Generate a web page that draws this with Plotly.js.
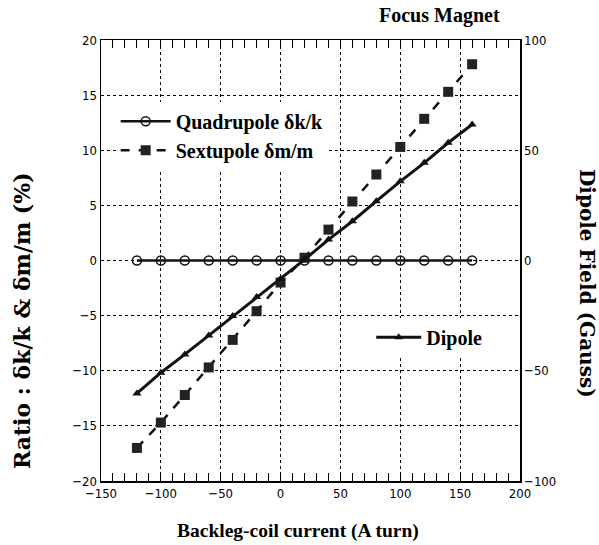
<!DOCTYPE html>
<html>
<head>
<meta charset="utf-8">
<script src="https://cdn.plot.ly/plotly-3.0.1.min.js"></script>
<style>html,body{margin:0;padding:0;background:#fff;}#chart{width:599px;height:545px;}</style>
</head>
<body>
<div id="chart"></div>
<script>
const current = [-120, -100, -80, -60, -40, -20, 0, 20, 40, 60, 80, 100, 120, 140, 160];
const quadrupole = [0, 0, 0, 0, 0, 0, 0, 0, 0, 0, 0, 0, 0, 0, 0];
const sextupole = [-17.0, -14.7, -12.2, -9.7, -7.2, -4.6, -2.0, 0.25, 2.8, 5.35, 7.8, 10.3, 12.85, 15.3, 17.8];
const dipole = [-60.3, -50.9, -42.6, -34.0, -25.2, -16.6, -8.3, 0.4, 9.5, 17.8, 26.9, 35.9, 44.3, 53.4, 61.7];

const serif = "Liberation Serif, Times New Roman, serif";
const wideSerif = "DejaVu Serif, Liberation Serif, serif";
const narrow = "DejaVu Sans Condensed, Liberation Sans Narrow, Arial Narrow, sans-serif";

const traces = [
  {x: current, y: quadrupole, name: 'Quadrupole δk/k', type: 'scatter', mode: 'lines+markers',
   line: {color: '#111', width: 2.5}, marker: {symbol: 'circle-open', size: 9, color: '#111', line: {width: 1.5}},
   legend: 'legend'},
  {x: current, y: sextupole, name: 'Sextupole δm/m', type: 'scatter', mode: 'lines+markers',
   line: {color: '#111', width: 2.5, dash: 'dash'}, marker: {symbol: 'square', size: 10, color: '#222'},
   legend: 'legend'},
  {x: current, y: dipole, name: 'Dipole', type: 'scatter', mode: 'lines+markers', yaxis: 'y2',
   line: {color: '#111', width: 3}, marker: {symbol: 'triangle-up', size: 8, color: '#111'},
   legend: 'legend2'}
];

const layout = {
  width: 599, height: 545,
  margin: {l: 101, r: 79, t: 40, b: 64},
  paper_bgcolor: '#fff', plot_bgcolor: '#fff',
  showlegend: true,
  xaxis: {
    range: [-150, 200], dtick: 50, tick0: 0,
    showline: true, linecolor: '#000', linewidth: 1.5, mirror: 'allticks',
    ticks: 'inside', ticklen: 8, tickcolor: '#000',
    minor: {dtick: 10, ticks: 'inside', ticklen: 5, tickcolor: '#000', showgrid: false},
    showgrid: true, gridcolor: '#000', griddash: 'dot', gridwidth: 1.2,
    zeroline: false,
    tickfont: {family: narrow, size: 13, color: '#000'}
  },
  yaxis: {
    range: [-20, 20], dtick: 5,
    showline: true, linecolor: '#000', linewidth: 1.5,
    ticks: '', showgrid: true, gridcolor: '#000', griddash: 'dot', gridwidth: 1.2,
    zeroline: false,
    tickfont: {family: narrow, size: 13, color: '#000'}
  },
  yaxis2: {
    range: [-100, 100], dtick: 50, overlaying: 'y', side: 'right',
    showline: true, linecolor: '#000', linewidth: 1.5,
    ticks: '', showgrid: false, zeroline: false,
    tickfont: {family: narrow, size: 13, color: '#000'}
  },
  yaxis3: {
    range: [-20, 20], tickvals: [-10, 10], overlaying: 'y', side: 'left',
    showgrid: true, gridcolor: '#000', gridwidth: 1.2, showticklabels: false, ticks: '',
    showline: false, zeroline: false
  },
  legend: {
    x: 0.035, y: 0.86, xanchor: 'left', yanchor: 'top',
    bgcolor: '#fff', borderwidth: 0, itemwidth: 50,
    font: {family: serif, size: 20, color: '#000', weight: 'bold'}, tracegroupgap: 0,
    traceorder: 'normal'
  },
  legend2: {
    x: 0.645, y: 0.37, xanchor: 'left', yanchor: 'top',
    bgcolor: '#fff', borderwidth: 0, itemwidth: 45,
    font: {family: serif, size: 20, color: '#000', weight: 'bold'}
  },
  annotations: [
    {text: 'Focus Magnet', xref: 'paper', yref: 'paper', x: 1.0, y: 1.0, xanchor: 'right', yanchor: 'middle', yshift: 25, xshift: -18,
     showarrow: false, font: {family: serif, size: 20, color: '#000', weight: 'bold'}},
    {text: 'Backleg-coil current (A turn)', xref: 'paper', yref: 'paper', x: 0.5, y: 0, xanchor: 'center', yanchor: 'middle', yshift: -50, xshift: -13,
     showarrow: false, font: {family: serif, size: 19.5, color: '#000', weight: 'bold'}},
    {text: 'Ratio : δk/k & δm/m (%)', xref: 'paper', yref: 'paper', x: 0, y: 0.417, xanchor: 'center', yanchor: 'middle', xshift: -79, yshift: -24,
     textangle: -90, showarrow: false, font: {family: wideSerif, size: 22, color: '#000', weight: 'bold'}},
    {text: 'Dipole Field (Gauss)', xref: 'paper', yref: 'paper', x: 1.0, y: 0.449, xanchor: 'center', yanchor: 'middle', xshift: 67,
     textangle: 90, showarrow: false, font: {family: wideSerif, size: 20, color: '#000', weight: 'bold'}}
  ]
};

Plotly.newPlot('chart', traces, layout, {displayModeBar: false, staticPlot: true});
</script>
</body>
</html>
